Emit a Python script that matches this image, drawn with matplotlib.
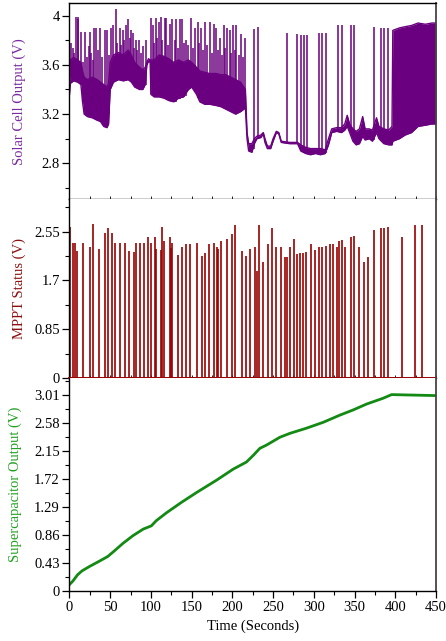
import matplotlib
matplotlib.use("Agg")
import matplotlib.pyplot as plt
from matplotlib.ticker import MultipleLocator, FixedLocator

plt.rcParams['font.family'] = ['Liberation Serif', 'DejaVu Serif']

# ---------------- Data ----------------
# Solar cell output: dense band (lower / upper envelope) + tall spikes
solar_t = [0, 1, 5, 10, 14, 16, 18, 22, 28, 34, 38, 42, 46, 48, 50, 54, 60, 66, 72, 76,
           80, 86, 90, 93, 95, 97, 99, 100, 104, 110, 116, 122, 128, 134, 140, 146, 150,
           156, 160, 166, 172, 180, 186, 192, 198, 204, 210, 216, 218, 220, 224, 227, 230,
           235, 238, 240, 243, 247, 250, 254, 257, 260, 270, 280, 284, 290, 296, 302, 308,
           314, 318, 322, 328, 334, 338, 341, 344, 348, 352, 356, 360, 363, 368, 372, 377,
           380, 386, 392, 396, 397, 405, 412, 420, 428, 437, 445, 450]
solar_low = [3.36, 3.45, 3.47, 3.46, 3.44, 3.30, 3.20, 3.18, 3.17, 3.15, 3.14, 3.10, 3.09,
             3.12, 3.40, 3.46, 3.48, 3.47, 3.48, 3.46, 3.42, 3.40, 3.40, 3.44, 3.60, 3.63,
             3.62, 3.36, 3.34, 3.34, 3.33, 3.31, 3.30, 3.33, 3.34, 3.40, 3.42, 3.36, 3.30,
             3.28, 3.28, 3.27, 3.26, 3.24, 3.22, 3.20, 3.22, 3.25, 3.00, 2.90, 2.89, 2.96,
             3.00, 3.01, 3.04, 2.97, 2.92, 2.92, 2.98, 3.05, 3.04, 2.97, 2.96, 2.96, 2.90,
             2.88, 2.87, 2.88, 2.87, 2.88, 2.95, 3.05, 3.06, 3.05, 3.07, 3.10, 3.05, 2.98,
             2.95, 2.96, 3.02, 2.99, 3.00, 2.98, 3.05, 3.00, 2.96, 2.95, 2.95, 2.98, 3.00,
             3.03, 3.05, 3.10, 3.11, 3.12, 3.12]
solar_high = [3.45, 3.64, 3.66, 3.64, 3.62, 3.55, 3.50, 3.48, 3.50, 3.48, 3.46, 3.44, 3.42,
              3.45, 3.62, 3.68, 3.70, 3.68, 3.72, 3.68, 3.62, 3.58, 3.56, 3.58, 3.62, 3.65,
              3.64, 3.64, 3.64, 3.68, 3.67, 3.65, 3.62, 3.64, 3.62, 3.64, 3.62, 3.58, 3.55,
              3.54, 3.53, 3.53, 3.52, 3.52, 3.50, 3.48, 3.46, 3.40, 3.05, 2.96, 2.96, 3.00,
              3.02, 3.03, 3.05, 3.00, 2.94, 2.94, 3.00, 3.06, 3.05, 2.98, 2.97, 2.97, 2.95,
              2.93, 2.92, 2.92, 2.92, 2.91, 3.00, 3.08, 3.09, 3.09, 3.12, 3.19, 3.12, 3.08,
              3.06, 3.08, 3.18, 3.08, 3.08, 3.07, 3.17, 3.10, 3.08, 3.07, 3.10, 3.88, 3.90,
              3.91, 3.92, 3.94, 3.93, 3.94, 3.94]

spike_t = [2, 8, 10, 11, 14, 19.5, 23.6, 25.3, 30.6, 32.7, 36.9, 44.2, 45.9, 51.2, 53.3,
           56.6, 61.5, 65.6, 69.7, 71.8, 75.8, 77.9, 81.2, 85.3, 90.2, 94.3, 100.4, 102.5,
           106.6, 109.9, 112.7, 116.8, 118.9, 123.8, 126.3, 131.2, 135.3, 138.6, 143.5,
           149.6, 153.7, 157.8, 161.9, 166, 172.2, 177.1, 180.4, 184.5, 189.4, 193.5, 196.8,
           200.9, 205, 211.1, 215.2, 226.3, 231.6, 267.2, 279.8, 283.9, 288, 291.3, 306.5,
           310.6, 314.7, 330.3, 334.4, 345.8, 349.9, 374.5, 382.3, 386, 391,
           4, 6, 17, 21, 27, 29, 35, 40, 48, 58, 63, 67, 74, 79, 83, 88, 104, 108, 114, 121,
           129, 133, 141, 146, 152, 159, 164, 169, 175, 182, 187, 191, 198, 203, 208, 213]
spike_base = [3.5, 3.5, 3.5, 3.5, 3.45, 3.2, 3.18, 3.18, 3.17, 3.16, 3.15, 3.1, 3.1, 3.45,
              3.46, 3.47, 3.48, 3.47, 3.47, 3.48, 3.46, 3.45, 3.42, 3.40, 3.40, 3.44, 3.36,
              3.35, 3.34, 3.34, 3.34, 3.33, 3.33, 3.31, 3.31, 3.30, 3.32, 3.33, 3.35, 3.42,
              3.38, 3.33, 3.30, 3.28, 3.28, 3.27, 3.27, 3.26, 3.25, 3.24, 3.23, 3.22, 3.21,
              3.22, 3.25, 2.92, 3.00, 2.96, 2.96, 2.90, 2.88, 2.88, 2.88, 2.88, 2.88, 3.06,
              3.06, 3.05, 2.98, 2.99, 3.00, 2.97, 2.96,
              3.5, 3.5, 3.3, 3.2, 3.18, 3.17, 3.16, 3.15, 3.2, 3.47, 3.48, 3.47, 3.48, 3.45,
              3.42, 3.40, 3.35, 3.34, 3.34, 3.32, 3.30, 3.32, 3.34, 3.40, 3.40, 3.32, 3.30,
              3.28, 3.28, 3.27, 3.26, 3.25, 3.23, 3.22, 3.21, 3.23]
spike_peak = [3.78, 3.99, 3.97, 3.99, 3.87, 3.87, 3.75, 3.87, 3.90, 3.90, 3.90, 3.88, 3.88,
              3.90, 3.92, 4.05, 3.90, 3.88, 3.92, 3.97, 3.88, 3.86, 3.80, 3.80, 3.75, 3.80,
              3.98, 3.92, 3.98, 3.95, 3.99, 3.98, 3.98, 3.93, 3.97, 3.97, 3.97, 3.97, 3.80,
              3.98, 3.90, 3.95, 3.90, 3.95, 3.95, 3.93, 3.90, 3.82, 3.92, 3.90, 3.88, 3.92,
              3.92, 3.85, 3.82, 3.89, 3.91, 3.86, 3.85, 3.84, 3.84, 3.84, 3.86, 3.86, 3.86,
              3.92, 3.92, 3.92, 3.92, 3.91, 3.90, 3.90, 3.90,
              3.74, 3.70, 3.62, 3.66, 3.70, 3.64, 3.72, 3.66, 3.68, 3.78, 3.76, 3.80, 3.82,
              3.74, 3.72, 3.70, 3.78, 3.82, 3.80, 3.76, 3.80, 3.74, 3.78, 3.76, 3.74, 3.78,
              3.72, 3.76, 3.70, 3.72, 3.68, 3.74, 3.70, 3.72, 3.68, 3.66]

# MPPT status pulses
mppt_t = [1.2, 4.9, 6.6, 9.4, 16, 24.6, 28.3, 36, 43.8, 47.9, 52, 56.1, 61.5, 68, 72.5,
          79.5, 81.2, 86.1, 91, 95.9, 100.4, 104.9, 106.2, 111.9, 113.2, 116.4, 123, 124.6,
          126.3, 132.8, 138.6, 143.5, 148.4, 157, 162.4, 166.9, 171.4, 177.6, 181.3, 182.9,
          186.6, 193.2, 199.3, 203.4, 211.6, 216.5, 222.2, 227.6, 230.8, 233.3, 238.2,
          243.6, 248.5, 253.4, 259.6, 264.5, 267, 270.7, 275.6, 278.9, 283, 286.3, 290.4,
          296.1, 301.9, 306.8, 309.7, 314.6, 319.5, 323.2, 328.1, 330.6, 334.3, 338, 346.2,
          349.9, 355.2, 361.8, 367.1, 374.5, 382.3, 386.8, 391.3, 408.2, 423.7, 432.3]
mppt_peak = [2.64, 2.36, 2.36, 2.21, 2.36, 2.29, 2.68, 2.25, 2.53, 2.61, 2.53, 2.36, 2.36,
             2.36, 2.21, 2.20, 2.36, 2.36, 2.36, 2.45, 2.35, 2.46, 2.24, 2.23, 2.64, 2.38,
             2.46, 2.26, 2.36, 2.14, 2.29, 2.33, 2.33, 2.35, 2.13, 2.18, 2.33, 2.36, 2.29,
             2.24, 2.38, 2.43, 2.51, 2.67, 2.21, 2.13, 2.24, 2.28, 1.86, 2.67, 2.03, 2.33,
             2.62, 2.28, 2.28, 2.11, 2.10, 2.28, 2.43, 2.16, 2.17, 2.18, 2.20, 2.33, 2.23,
             2.28, 2.28, 2.30, 2.33, 2.33, 2.28, 2.38, 2.40, 2.28, 2.45, 2.47, 2.28, 2.03,
             2.11, 2.58, 2.61, 2.62, 2.64, 2.46, 2.67, 2.67]

# Supercapacitor charging curve
cap_t = [0, 4, 10, 15.5, 24.5, 37, 47, 55.5, 65.5, 78, 90.5, 100.5, 106.6, 119, 137.4,
         155.8, 180.4, 200.9, 217.3, 225.5, 233.7, 241.9, 258.3, 270.6, 291.1, 311.6, 332,
         348.4, 364.8, 385.3, 395.5, 450]
cap_v = [0.10, 0.15, 0.25, 0.31, 0.376, 0.46, 0.53, 0.62, 0.73, 0.85, 0.95, 1.00, 1.08,
         1.20, 1.36, 1.51, 1.70, 1.87, 1.98, 2.08, 2.19, 2.24, 2.36, 2.42, 2.50, 2.59, 2.70,
         2.78, 2.87, 2.96, 3.015, 3.00]

solar_ticks = [2.8, 3.2, 3.6, 4.0]
solar_ticklabels = ["2.8", "3.2", "3.6", "4"]
mppt_ticks = [0, 0.85, 1.7, 2.55]
mppt_ticklabels = ["0", "0.85", "1.7", "2.55"]
cap_ticks = [0, 0.43, 0.86, 1.29, 1.72, 2.15, 2.58, 3.01]
cap_ticklabels = ["0", "0.43", "0.86", "1.29", "1.72", "2.15", "2.58", "3.01"]
time_ticks = [0, 50, 100, 150, 200, 250, 300, 350, 400, 450]

# ---------------- Style ----------------
purple = '#6a0080'
purple_lbl = '#7a2aa0'
red = '#990000'
red_lbl = '#8b1010'
green = '#138a13'
green_lbl = '#22a022'
fs = 10.5

fig = plt.figure(figsize=(4.46, 6.41), dpi=100)
L, W = 0.1558, 0.8217
ax1 = fig.add_axes([L, 0.6895, W, 0.3053])
ax2 = fig.add_axes([L, 0.4103, W, 0.2793])
ax3 = fig.add_axes([L, 0.0780, W, 0.3323])

# Top panel
ax1.fill_between(solar_t, solar_low, solar_high, color=purple, lw=0)
ax1.plot(solar_t, solar_low, color=purple, lw=1.0)
ax1.plot(solar_t, solar_high, color=purple, lw=1.0)
ax1.vlines(spike_t, spike_base, spike_peak, color=purple, lw=1.1)
ax1.set_ylim(2.51, 4.1)
ax1.set_yticks(solar_ticks)
ax1.set_yticklabels(solar_ticklabels)
ax1.yaxis.set_minor_locator(FixedLocator([2.6, 3.0, 3.4, 3.8]))
ax1.set_ylabel("Solar Cell Output (V)", color=purple_lbl, fontsize=fs)

# Middle panel
ax2.vlines(mppt_t, 0, mppt_peak, color=red, lw=1.2)
ax2.axhline(0, color=red, lw=1.4, clip_on=False, zorder=5)
ax2.set_ylim(0, 3.12)
ax2.set_yticks(mppt_ticks)
ax2.set_yticklabels(mppt_ticklabels)
ax2.yaxis.set_minor_locator(FixedLocator([0.425, 1.275, 2.125, 2.975]))
ax2.set_ylabel("MPPT Status (V)", color=red_lbl, fontsize=fs)

# Bottom panel
ax3.plot(cap_t, cap_v, color=green, lw=2.0)
ax3.set_ylim(0, 3.27)
ax3.set_yticks(cap_ticks)
ax3.set_yticklabels(cap_ticklabels)
ax3.yaxis.set_minor_locator(FixedLocator([0.215, 0.645, 1.075, 1.505, 1.935, 2.365, 2.795, 3.225]))
ax3.set_ylabel("Supercapacitor Output (V)", color=green_lbl, fontsize=fs)
ax3.set_xlabel("Time (Seconds)", fontsize=fs, labelpad=4)

for ax in (ax1, ax2, ax3):
    ax.set_xlim(0, 450)
    ax.set_xticks(time_ticks)
    ax.xaxis.set_minor_locator(MultipleLocator(25))
    ax.tick_params(axis='y', which='major', direction='out', length=5, width=0.9,
                   labelsize=fs, pad=2)
    ax.tick_params(axis='y', which='minor', direction='out', length=3, width=0.8)
    ax.yaxis.set_label_coords(-0.12, 0.5)
    for s in ax.spines.values():
        s.set_linewidth(1.0)
    ax.spines['right'].set_color('#444444')
    ax.spines['right'].set_linewidth(1.3)

for ax in (ax1, ax2):
    ax.tick_params(axis='x', which='both', direction='in', length=2, width=0.6,
                   labelbottom=False)
ax2.spines['top'].set_visible(False)
ax3.spines['top'].set_visible(False)
ax3.tick_params(axis='x', which='major', direction='out', length=5, width=0.9,
                labelsize=fs, pad=2)
ax3.tick_params(axis='x', which='minor', direction='out', length=3, width=0.8)
ax3.yaxis.set_label_coords(-0.13, 0.5)

fig.savefig("out.png", dpi=100)
